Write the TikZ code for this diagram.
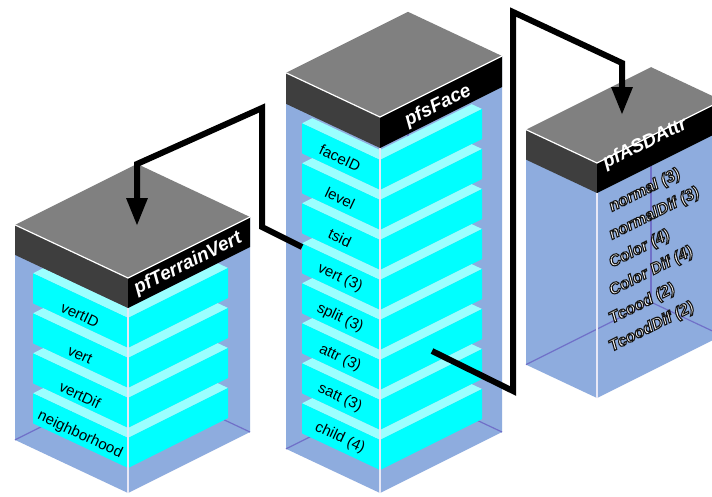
\documentclass[tikz,border=0pt]{standalone}
\usepackage{fontspec}
\setmainfont{Liberation Sans}
\usetikzlibrary{arrows.meta}
\definecolor{bodyblue}{RGB}{142,172,222}
\definecolor{topgray}{RGB}{128,128,128}
\definecolor{bandgray}{RGB}{62,62,62}
\definecolor{slabcyan}{RGB}{0,255,255}
\definecolor{slablight}{RGB}{155,255,255}
\definecolor{innerline}{RGB}{112,112,200}
\definecolor{frontedge}{RGB}{232,232,246}

% box body: xf yt wl wr b H
\newcommand\boxbody[6]{%
  \pgfmathsetmacro\Lx{#1-#3}\pgfmathsetmacro\Ly{#2-0.47*#3}%
  \pgfmathsetmacro\Rx{#1+#4}\pgfmathsetmacro\Ry{#2-0.5*#4}%
  \pgfmathsetmacro\Bx{#1-#3+#4}\pgfmathsetmacro\By{#2-0.47*#3-0.5*#4}%
  \fill[bodyblue] (\Lx,\Ly) -- (#1,#2) -- (\Rx,\Ry) -- (\Rx,{\Ry+#6}) -- (#1,{#2+#6}) -- (\Lx,{\Ly+#6}) -- cycle;
  \draw[innerline, line width=1.2pt] (\Lx,{\Ly+#6}) -- (\Bx,{\By+#6}) -- (\Rx,{\Ry+#6});
  \draw[innerline, line width=1.2pt] (\Bx,{\By+#5}) -- (\Bx,{\By+#6});
}
% box cap: xf yt wl wr b H
\newcommand\boxcap[6]{%
  \pgfmathsetmacro\Lx{#1-#3}\pgfmathsetmacro\Ly{#2-0.47*#3}%
  \pgfmathsetmacro\Rx{#1+#4}\pgfmathsetmacro\Ry{#2-0.5*#4}%
  \pgfmathsetmacro\Bx{#1-#3+#4}\pgfmathsetmacro\By{#2-0.47*#3-0.5*#4}%
  \fill[bandgray] (\Lx,\Ly) -- (#1,#2) -- (#1,{#2+#5}) -- (\Lx,{\Ly+#5}) -- cycle;
  \fill[black] (#1,#2) -- (\Rx,\Ry) -- (\Rx,{\Ry+#5}) -- (#1,{#2+#5}) -- cycle;
  \fill[topgray] (\Lx,\Ly) -- (#1,#2) -- (\Rx,\Ry) -- (\Bx,\By) -- cycle;
  \draw[white, line width=1.2pt] (\Lx,\Ly) -- (#1,#2) -- (\Rx,\Ry);
  \draw[frontedge, line width=1.3pt] (#1,{#2+#5}) -- (#1,{#2+#6});
}
% slab: xf yt wl wr
\newcommand\slabdraw[4]{%
  \pgfmathsetmacro\Lx{#1-#3}\pgfmathsetmacro\Ly{#2-0.47*#3}%
  \pgfmathsetmacro\Rx{#1+#4}\pgfmathsetmacro\Ry{#2-0.5*#4}%
  \fill[slablight] (#1,#2) -- (\Lx,\Ly) -- ({\Lx+10.3},{\Ly-5.15}) -- (#1,{#2-10}) -- ({\Rx-10.3},{\Ry-4.84}) -- (\Rx,\Ry) -- cycle;
  \fill[slabcyan] (\Lx,\Ly) -- (#1,#2) -- (\Rx,\Ry) -- (\Rx,{\Ry+30}) -- (#1,{#2+30}) -- (\Lx,{\Ly+30}) -- cycle;
}
% white text with a dark outline (text render mode 2)
\newcommand\outlined[1]{\special{pdf:code q 2 Tr 1.1 w 0.08 0.08 0.08 RG}#1\special{pdf:code Q}}

\begin{document}
\begin{tikzpicture}[x=1pt,y=-1pt,
  lbl/.style={font=\fontsize{15}{15}\selectfont, rotate=-25.2, inner sep=0pt, text=black},
  ttl/.style={font=\bfseries\itshape\fontsize{19}{19}\selectfont, rotate=26.57, inner sep=0pt, text=white},
  attrtxt/.style={font=\bfseries\itshape\fontsize{16}{16}\selectfont, rotate=26.57, anchor=west, inner sep=0pt, text=white},
  conn/.style={line width=6pt, line join=miter, -{Triangle[length=28pt,width=20pt]}}]
\useasboundingbox (0,0) rectangle (712,496);
\clip (0,0) rectangle (712,496);
\fill[white] (0,0) rectangle (712,496);

% ---------- box 1 : pfTerrainVert ----------
\boxbody{128}{278}{113}{122}{30}{215}
\slabdraw{128}{318}{95}{100}
\slabdraw{128}{358}{95}{100}
\slabdraw{128}{398}{95}{100}
\slabdraw{128}{438}{95}{100}
\boxcap{128}{278}{113}{122}{30}{215}
\node[lbl] (vertID) at (80,315) {vertID};
\node[lbl] (vert) at (80,355) {vert};
\node[lbl] (vertDif) at (80,395) {vertDif};
\node[lbl] (neigh) at (80,435) {neighborhood};
\node[ttl] (t1) at (188,264) {pfTerrainVert};

% ---------- box 2 : pfsFace ----------
\boxbody{380}{117}{94}{122}{31}{376}
\slabdraw{380}{160}{78}{102}
\slabdraw{380}{200}{78}{102}
\slabdraw{380}{240}{78}{102}
\slabdraw{380}{280}{78}{102}
\slabdraw{380}{320}{78}{102}
\slabdraw{380}{360}{78}{102}
\slabdraw{380}{400}{78}{102}
\slabdraw{380}{440}{78}{102}
\boxcap{380}{117}{94}{122}{31}{376}
\node[lbl] (faceID) at (340,158) {faceID};
\node[lbl] (level) at (340,198) {level};
\node[lbl] (tsid) at (340,238) {tsid};
\node[lbl] (vert3) at (340,278) {vert (3)};
\node[lbl] (split3) at (340,318) {split (3)};
\node[lbl] (attr3) at (340,358) {attr (3)};
\node[lbl] (satt3) at (340,398) {satt (3)};
\node[lbl] (child4) at (340,438) {child (4)};
\node[ttl] (t2) at (438,106) {pfsFace};

% ---------- box 3 : pfASDAttr ----------
\boxbody{597}{163}{71}{125}{30}{235}
\boxcap{597}{163}{71}{125}{30}{235}
\node[ttl] (t3) at (645,144) {pfASDAttr};
\node[attrtxt] (n1) at (610,208) {\outlined{normal (3)}};
\node[attrtxt] (n2) at (610,236) {\outlined{normalDif (3)}};
\node[attrtxt] (n3) at (610,264) {\outlined{Color (4)}};
\node[attrtxt] (n4) at (610,292) {\outlined{Color Dif (4)}};
\node[attrtxt] (n5) at (610,320) {\outlined{Tcood (2)}};
\node[attrtxt] (n6) at (610,348) {\outlined{TcoodDif (2)}};

% ---------- connectors ----------
\coordinate (a0) at (302,247);
\coordinate (a1) at (262,227);
\coordinate (a2) at (262,108);
\coordinate (a3) at (137,164);
\coordinate (a4) at (137,226);
\draw[conn] (a0) -- (a1) -- (a2) -- (a3) -- (a4);

\coordinate (b0) at (432,351);
\coordinate (b1) at (513,391);
\coordinate (b2) at (513,12);
\coordinate (b3) at (622,63);
\coordinate (b4) at (622,115);
\draw[conn] (b0) -- (b1) -- (b2) -- (b3) -- (b4);
\end{tikzpicture}
\end{document}
